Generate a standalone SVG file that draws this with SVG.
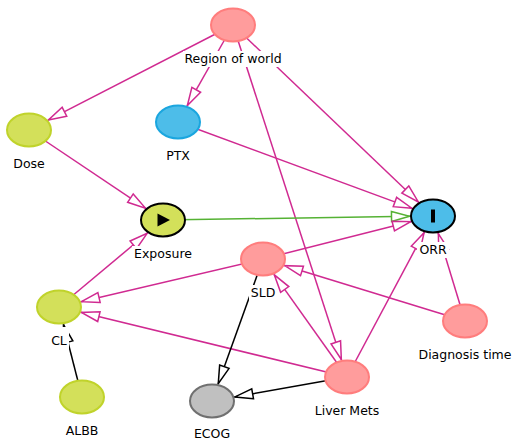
<svg xmlns="http://www.w3.org/2000/svg" width="513" height="440" viewBox="0 0 513 440">
<style>
.e{fill:none;stroke-width:1.5}
.p{stroke:#d02a91}
.k{stroke:#000}
.g{stroke:#55b234}
.yg{fill:#d3e05a;stroke:#c0d32b;stroke-width:2}
.bl{fill:#4dbde9;stroke:#1ba6df;stroke-width:2}
.pk{fill:#ff9c9c;stroke:#ff7d7d;stroke-width:2}
.gy{fill:#c0c0c0;stroke:#707070;stroke-width:2}
.lb{fill:#fff}
text{font-family:"DejaVu Sans",sans-serif;font-size:12.5px;fill:#000;text-anchor:middle}
</style>
<defs>
<marker id="ap" markerUnits="userSpaceOnUse" markerWidth="22" markerHeight="14" refX="19.5" refY="6" orient="auto" overflow="visible"><path d="M1,1 L19,6 L1,11 Z" fill="#fff" stroke="#d02a91" stroke-width="1.5"/></marker>
<marker id="ak" markerUnits="userSpaceOnUse" markerWidth="22" markerHeight="14" refX="19.5" refY="6" orient="auto" overflow="visible"><path d="M1,1 L19,6 L1,11 Z" fill="#fff" stroke="#000" stroke-width="1.5"/></marker>
<marker id="ag" markerUnits="userSpaceOnUse" markerWidth="22" markerHeight="14" refX="19.5" refY="6" orient="auto" overflow="visible"><path d="M1,1 L19,6 L1,11 Z" fill="#fff" stroke="#55b234" stroke-width="1.5"/></marker>
</defs>
<g id="edges">
<line class="e p" x1="233" y1="25" x2="48" y2="120.2" marker-end="url(#ap)"/>
<line class="e p" x1="233" y1="25" x2="187.1" y2="105.9" marker-end="url(#ap)"/>
<line class="e p" x1="233" y1="25" x2="418.7" y2="202.3" marker-end="url(#ap)"/>
<line class="e p" x1="233" y1="25" x2="341.5" y2="360" marker-end="url(#ap)"/>
<line class="e p" x1="29" y1="130" x2="145.8" y2="208.4" marker-end="url(#ap)"/>
<line class="e p" x1="178" y1="122" x2="412.3" y2="208.4" marker-end="url(#ap)"/>
<line class="e g" x1="163" y1="220" x2="410" y2="216.3" marker-end="url(#ag)"/>
<line class="e p" x1="59" y1="307" x2="147.5" y2="233" marker-end="url(#ap)"/>
<line class="e p" x1="263" y1="259" x2="81" y2="301.8" marker-end="url(#ap)"/>
<line class="e p" x1="263" y1="259" x2="411.2" y2="221.5" marker-end="url(#ap)"/>
<line class="e p" x1="347" y1="377" x2="80.9" y2="312.3" marker-end="url(#ap)"/>
<line class="e p" x1="347" y1="377" x2="274" y2="274.4" marker-end="url(#ap)"/>
<line class="e p" x1="347" y1="377" x2="424.3" y2="232.2" marker-end="url(#ap)"/>
<line class="e k" x1="347" y1="377" x2="234.4" y2="397" marker-end="url(#ak)"/>
<line class="e k" x1="263" y1="259" x2="218.1" y2="384.1" marker-end="url(#ak)"/>
<line class="e k" x1="82" y1="397" x2="63.4" y2="324.2" marker-end="url(#ak)"/>
<line class="e p" x1="465" y1="321" x2="284.3" y2="265.5" marker-end="url(#ap)"/>
<line class="e p" x1="465" y1="321" x2="438.2" y2="233.1" marker-end="url(#ap)"/>
</g>
<g id="region">
<ellipse class="pk" cx="233" cy="25" rx="22" ry="16.5"/>
<rect class="lb" x="183" y="51" width="100" height="16"/>
<text x="233" y="63">Region of world</text>
</g>
<g id="dose">
<ellipse class="yg" cx="29" cy="130" rx="22" ry="16.5"/>
<rect class="lb" x="11" y="156" width="36" height="16"/>
<text x="29" y="168">Dose</text>
</g>
<g id="ptx">
<ellipse class="bl" cx="178" cy="122" rx="22" ry="16.5"/>
<rect class="lb" x="164" y="148" width="28" height="16"/>
<text x="178" y="160">PTX</text>
</g>
<g id="exposure">
<ellipse cx="163" cy="220" rx="22" ry="16.5" fill="#d3e05a" stroke="#000" stroke-width="2"/>
<polygon points="157.5,213.5 170,220 157.5,226.5" fill="#000"/>
<rect class="lb" x="132" y="246" width="62" height="16"/>
<text x="163" y="258">Exposure</text>
</g>
<g id="orr">
<ellipse cx="433" cy="216" rx="22" ry="16.5" fill="#4dbde9" stroke="#000" stroke-width="2"/>
<rect x="431" y="209.5" width="4" height="13" fill="#000"/>
<rect class="lb" x="417" y="242" width="32" height="16"/>
<text x="433" y="254">ORR</text>
</g>
<g id="sld">
<ellipse class="pk" cx="263" cy="259" rx="22" ry="16.5"/>
<rect class="lb" x="249" y="285" width="28" height="16"/>
<text x="263" y="297">SLD</text>
</g>
<g id="cl">
<ellipse class="yg" cx="59" cy="307" rx="22" ry="16.5"/>
<rect class="lb" x="48" y="327" width="21" height="22"/>
<text x="59" y="345">CL</text>
</g>
<g id="albb">
<ellipse class="yg" cx="82" cy="397" rx="22" ry="16.5"/>
<rect class="lb" x="64" y="423" width="36" height="16"/>
<text x="82" y="435">ALBB</text>
</g>
<g id="ecog">
<ellipse class="gy" cx="212" cy="401" rx="22" ry="16.5"/>
<rect class="lb" x="192" y="426" width="40" height="14"/>
<text x="212" y="437.5">ECOG</text>
</g>
<g id="livermets">
<ellipse class="pk" cx="347" cy="377" rx="22" ry="16.5"/>
<rect class="lb" x="313" y="403" width="68" height="16"/>
<text x="347" y="415">Liver Mets</text>
</g>
<g id="diagnosis">
<ellipse class="pk" cx="465" cy="321" rx="22" ry="16.5"/>
<rect class="lb" x="418" y="347" width="95" height="16"/>
<text x="465" y="359">Diagnosis time</text>
</g>
</svg>
